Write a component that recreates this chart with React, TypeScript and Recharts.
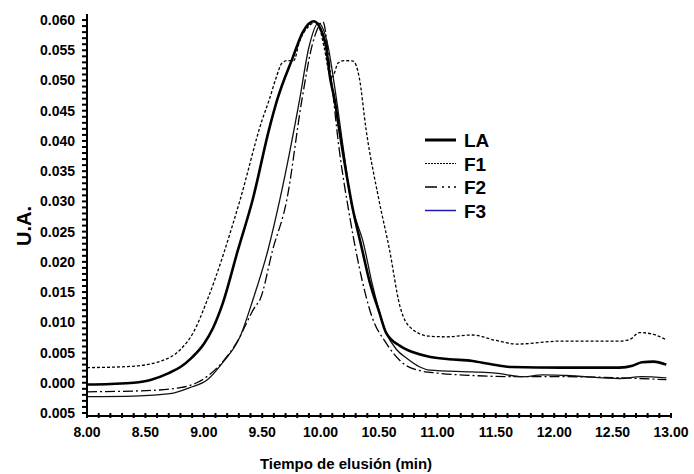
import React from "react";
import { LineChart, Line, XAxis, YAxis, Legend } from "recharts";

// elution time (min) / absorbance (U.A.)
const laPoints = [
  [8.0, -0.0003], [8.2, -0.0002], [8.4, 0.0], [8.55, 0.0005], [8.7, 0.0016], [8.8, 0.0026],
  [8.9, 0.0042], [9.0, 0.0064], [9.08, 0.0091], [9.16, 0.013], [9.29, 0.0218], [9.42, 0.0304],
  [9.56, 0.042], [9.63, 0.0469], [9.76, 0.0537], [9.85, 0.0581], [9.94, 0.0598], [10.0, 0.0585],
  [10.05, 0.0552], [10.08, 0.0506], [10.12, 0.0468], [10.16, 0.0418], [10.27, 0.0293],
  [10.35, 0.0225], [10.42, 0.0167], [10.5, 0.0118], [10.56, 0.0083], [10.68, 0.0061],
  [10.8, 0.005], [10.93, 0.0043], [11.1, 0.0039], [11.3, 0.0036], [11.45, 0.0031],
  [11.64, 0.0026], [12.07, 0.0025], [12.56, 0.0025], [12.67, 0.0028], [12.75, 0.0034],
  [12.85, 0.0035], [12.96, 0.003],
];

const f1Points = [
  [8.0, 0.0025], [8.37, 0.0027], [8.62, 0.0035], [8.8, 0.0055], [8.91, 0.0083], [9.03, 0.0137],
  [9.31, 0.0302], [9.5, 0.0435], [9.56, 0.0468], [9.62, 0.0505], [9.67, 0.0529], [9.72, 0.0533],
  [9.77, 0.0533], [9.82, 0.0565], [9.9, 0.059], [9.97, 0.0597], [10.03, 0.0555], [10.08, 0.0509],
  [10.1, 0.0506], [10.15, 0.0529], [10.2, 0.0533], [10.28, 0.0532], [10.33, 0.0506],
  [10.39, 0.0418], [10.5, 0.0302], [10.59, 0.022], [10.68, 0.0126], [10.76, 0.0093],
  [10.93, 0.0077], [11.08, 0.0076], [11.3, 0.0079], [11.5, 0.007], [11.68, 0.0064],
  [12.07, 0.0069], [12.56, 0.0069], [12.65, 0.0072], [12.73, 0.0083], [12.85, 0.008],
  [12.96, 0.0071],
];

const f2Points = [
  [8.0, -0.0015], [8.51, -0.0013], [8.8, -0.0008], [8.94, 0.0], [9.14, 0.003], [9.28, 0.0066],
  [9.44, 0.0126], [9.48, 0.0137], [9.59, 0.022], [9.71, 0.0302], [9.84, 0.0468], [9.93, 0.056],
  [10.02, 0.0597], [10.08, 0.052], [10.16, 0.0385], [10.25, 0.0274], [10.33, 0.0192],
  [10.44, 0.0109], [10.56, 0.0066], [10.7, 0.0033], [10.85, 0.002], [11.0, 0.0016],
  [11.3, 0.0012], [11.7, 0.001], [12.1, 0.001], [12.6, 0.0008], [12.96, 0.0005],
];

const f3Points = [
  [8.0, -0.0023], [8.4, -0.0022], [8.71, -0.0018], [8.88, -0.0008], [9.03, 0.0005],
  [9.16, 0.0033], [9.31, 0.0076], [9.42, 0.0137], [9.55, 0.022], [9.65, 0.0302], [9.82, 0.0468],
  [9.9, 0.0555], [9.98, 0.0595], [10.06, 0.056], [10.12, 0.049], [10.2, 0.038], [10.27, 0.029],
  [10.31, 0.0265], [10.36, 0.0236], [10.44, 0.0165], [10.56, 0.0083], [10.65, 0.0055],
  [10.74, 0.004], [10.85, 0.0026], [10.93, 0.0021], [11.3, 0.0018], [11.5, 0.0016],
  [11.73, 0.001], [11.9, 0.0013], [12.1, 0.0012], [12.56, 0.0007], [12.75, 0.001], [12.96, 0.0008],
];

const xMajorTicks = [8, 8.5, 9, 9.5, 10, 10.5, 11, 11.5, 12, 12.5, 13];
const yMajorTicks = [-0.005, 0, 0.005, 0.01, 0.015, 0.02, 0.025, 0.03, 0.035, 0.04, 0.045, 0.05, 0.055, 0.06];

const legendItems = [
  { name: "LA", color: "#000", width: 3, dash: undefined },
  { name: "F1", color: "#000", width: 1, dash: "2 1" },
  { name: "F2", color: "#000", width: 1.5, dash: "12 5 2 4 2 4" },
  { name: "F3", color: "#1c1cb4", width: 1.5, dash: undefined },
];

const toRows = (pts: number[][]) => pts.map(([t, v]) => ({ t, v }));

// minor ticks every 0.1 min / 0.001 U.A.
const xTicks: number[] = [];
for (let i = 80; i <= 130; i++) xTicks.push(i / 10);
const yTicks: number[] = [];
for (let i = -5; i <= 60; i++) yTicks.push(i / 1000);

const font = "'Liberation Sans', Arial, sans-serif";
const X_TICK_SIZE = 8;

// x ticks point up into the plot; Recharts hands us y = axis + tickSize
const renderXTick = (props: any) => {
  const { x, y, payload } = props;
  const v = payload.value;
  const major = xMajorTicks.some((m) => Math.abs(m - v) < 1e-6);
  const axisY = y - X_TICK_SIZE;
  return (
    <g>
      <rect x={x - 1} y={axisY - 5} width={2} height={5} fill="#000" />
      {major && (
        <text x={x} y={axisY + 19} textAnchor="middle" fontSize={14} fontWeight="bold" fontFamily={font} fill="#000">
          {v.toFixed(2)}
        </text>
      )}
    </g>
  );
};

const renderYTick = (props: any) => {
  const { x, y, payload } = props;
  const v = payload.value;
  const major = yMajorTicks.some((m) => Math.abs(m - v) < 1e-7);
  if (!major) return <g />;
  return (
    <text x={x - 5} y={y + 5} textAnchor="end" fontSize={14} fontWeight="bold" fontFamily={font} fill="#000">
      {Math.abs(v).toFixed(3)}
    </text>
  );
};

const LegendBox = () => (
  <svg width={90} height={100}>
    {legendItems.map((it, i) => (
      <g key={it.name}>
        <line x1={5} x2={36} y1={14 + i * 23.5} y2={14 + i * 23.5} stroke={it.color} strokeWidth={it.width} strokeDasharray={it.dash} />
        <text x={44} y={21 + i * 23.5} fontSize={19} fontWeight="bold" fontFamily={font} fill="#000">
          {it.name}
        </text>
      </g>
    ))}
  </svg>
);

export default function App() {
  return (
    <div style={{ position: "fixed", left: 0, top: 0, width: 694, height: 474, background: "#fff" }}>
      <LineChart width={694} height={474} margin={{ top: 14, right: 23, left: 0, bottom: 8 }}>
        <XAxis
          dataKey="t"
          type="number"
          domain={[8, 13]}
          ticks={xTicks}
          interval={0}
          tick={renderXTick}
          tickLine={false}
          tickSize={X_TICK_SIZE}
          height={50}
          axisLine={{ stroke: "#000", strokeWidth: 2 }}
        />
        <YAxis
          type="number"
          domain={[-0.0055, 0.061]}
          ticks={yTicks}
          interval={0}
          tick={renderYTick}
          tickLine={{ stroke: "#000", strokeWidth: 2 }}
          tickSize={5}
          width={87}
          axisLine={{ stroke: "#000", strokeWidth: 2 }}
        />
        <Legend
          layout="vertical"
          align="center"
          verticalAlign="middle"
          content={() => <LegendBox />}
          wrapperStyle={{ left: 420, top: 126, width: 90, height: 100 }}
        />
        <Line data={toRows(f1Points)} dataKey="v" name="F1" type="monotone" stroke="#000" strokeWidth={1.3} strokeDasharray="3 2" dot={false} isAnimationActive={false} />
        <Line data={toRows(f2Points)} dataKey="v" name="F2" type="monotone" stroke="#000" strokeWidth={1.3} strokeDasharray="10 3 2 3" dot={false} isAnimationActive={false} />
        <Line data={toRows(f3Points)} dataKey="v" name="F3" type="monotone" stroke="#111" strokeWidth={1.3} dot={false} isAnimationActive={false} />
        <Line data={toRows(laPoints)} dataKey="v" name="LA" type="monotone" stroke="#000" strokeWidth={2.6} dot={false} isAnimationActive={false} />
      </LineChart>
      <div
        style={{
          position: "absolute",
          left: 253,
          top: 455,
          width: 186,
          textAlign: "center",
          fontFamily: font,
          fontWeight: "bold",
          fontSize: 15,
          whiteSpace: "nowrap",
        }}
      >
        Tiempo de elusión (min)
      </div>
      <div
        style={{
          position: "absolute",
          left: 24,
          top: 226,
          transform: "translate(-50%, -50%) rotate(-90deg)",
          fontFamily: font,
          fontWeight: "bold",
          fontSize: 20,
          whiteSpace: "nowrap",
        }}
      >
        U.A.
      </div>
    </div>
  );
}
